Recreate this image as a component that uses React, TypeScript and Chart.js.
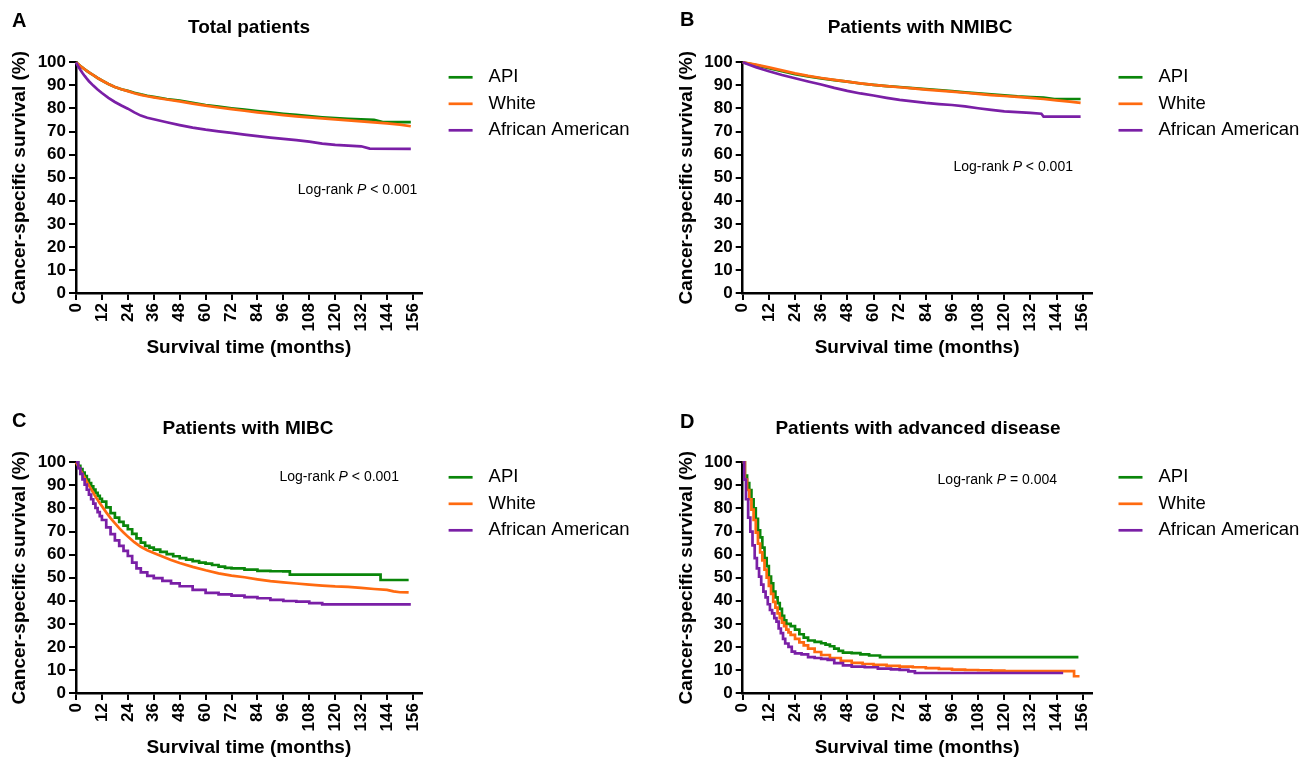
import React, { useEffect, useRef } from 'react';
import { Chart, registerables } from 'chart.js';

Chart.register(...registerables);

// ---------- shared axis / legend data ----------
const xTicks = [0, 12, 24, 36, 48, 60, 72, 84, 96, 108, 120, 132, 144, 156];
const yTicks = [0, 10, 20, 30, 40, 50, 60, 70, 80, 90, 100];
const xMax = 160;
const groupNames = ['API', 'White', 'African American'];
const groupColors = ['#0a860a', '#ff6a10', '#7a1fa6'];

const panelLetters = ['A', 'B', 'C', 'D'];
const panelTitles = ['Total patients', 'Patients with NMIBC', 'Patients with MIBC', 'Patients with advanced disease'];
const pSigns = ['<', '<', '<', '='];
const pValues = ['0.001', '0.001', '0.001', '0.004'];
const pAnchorMonths = [158, 151.5, 149.5, 144.2];
const pAnchorSurvival = [44.6, 54.7, 93.4, 92.3];

// ---------- Panel A: total patients ----------
const totalApiMonths = [0, 1, 2, 3, 4, 5, 6, 8, 10, 12, 15, 18, 21, 24, 27, 30, 33, 36, 42, 48, 54, 60, 66, 72, 78, 84, 90, 96, 102, 108, 114, 120, 126, 132, 138, 142, 155];
const totalApiSurvival = [100, 99.2, 98.4, 97.7, 97, 96.3, 95.6, 94.4, 93.2, 92.1, 90.6, 89.3, 88.3, 87.6, 86.8, 86.1, 85.5, 85, 84.1, 83.4, 82.4, 81.5, 80.8, 80.1, 79.5, 78.9, 78.3, 77.7, 77.2, 76.7, 76.2, 75.8, 75.5, 75.3, 75.1, 74.1, 74.1];
const totalWhiteMonths = [0, 1, 2, 3, 4, 5, 6, 8, 10, 12, 15, 18, 21, 24, 27, 30, 33, 36, 42, 48, 54, 60, 66, 72, 78, 84, 90, 96, 102, 108, 114, 120, 126, 132, 138, 144, 150, 155];
const totalWhiteSurvival = [100, 99.2, 98.4, 97.7, 97, 96.3, 95.6, 94.4, 93.2, 92.1, 90.6, 89.3, 88.3, 87.5, 86.6, 85.9, 85.3, 84.8, 83.9, 83.1, 82.1, 81.2, 80.4, 79.7, 79, 78.3, 77.7, 77.1, 76.6, 76.1, 75.7, 75.3, 74.8, 74.4, 74, 73.5, 73, 72.3];
const totalAaMonths = [0, 1, 2, 3, 4, 5, 6, 8, 10, 12, 15, 18, 21, 24, 27, 30, 33, 36, 42, 48, 54, 60, 66, 72, 78, 84, 90, 96, 102, 108, 114, 120, 126, 132, 136, 155];
const totalAaSurvival = [100, 98.3, 96.8, 95.4, 94.1, 92.9, 91.8, 89.9, 88.2, 86.7, 84.6, 82.8, 81.3, 79.9, 78.3, 76.9, 76, 75.3, 74, 72.8, 71.7, 70.8, 70.1, 69.4, 68.7, 68, 67.4, 66.8, 66.3, 65.6, 64.8, 64.2, 63.9, 63.6, 62.6, 62.5];

// ---------- Panel B: NMIBC ----------
const nmibcApiMonths = [0, 6, 12, 18, 24, 30, 36, 42, 48, 54, 60, 66, 72, 78, 84, 90, 96, 102, 108, 114, 120, 126, 132, 138, 143, 155];
const nmibcApiSurvival = [100, 98.8, 97.5, 96.1, 94.9, 93.9, 93, 92.3, 91.6, 90.8, 90.2, 89.7, 89.3, 88.8, 88.4, 88, 87.5, 87, 86.5, 86.1, 85.7, 85.2, 84.9, 84.7, 84.1, 84.1];
const nmibcWhiteMonths = [0, 6, 12, 18, 24, 30, 36, 42, 48, 54, 60, 66, 72, 78, 84, 90, 96, 102, 108, 114, 120, 126, 132, 138, 144, 150, 155];
const nmibcWhiteSurvival = [100, 99, 97.8, 96.5, 95.2, 94.1, 93.2, 92.4, 91.6, 90.9, 90.2, 89.7, 89.2, 88.7, 88.2, 87.7, 87.3, 86.8, 86.3, 85.8, 85.4, 85, 84.6, 84.1, 83.5, 83, 82.4];
const nmibcAaMonths = [0, 3, 6, 9, 12, 18, 24, 30, 36, 42, 48, 54, 60, 66, 72, 78, 84, 90, 96, 102, 108, 114, 120, 126, 132, 137, 138, 155];
const nmibcAaSurvival = [100, 98.9, 97.9, 97, 96.1, 94.5, 93.1, 91.7, 90.4, 88.9, 87.6, 86.5, 85.6, 84.6, 83.7, 83.1, 82.4, 81.9, 81.5, 80.9, 80.1, 79.4, 78.7, 78.4, 78.1, 77.7, 76.5, 76.5];

// ---------- Panel C: MIBC ----------
const mibcApiMonths = [0, 1, 2, 3, 4, 5, 6, 7, 8, 9, 10, 11, 12, 14, 16, 18, 20, 22, 24, 26, 28, 30, 32, 34, 36, 39, 42, 45, 48, 51, 54, 57, 60, 63, 66, 69, 72, 78, 84, 90, 96, 99, 141, 154];
const mibcApiSurvival = [100, 98.5, 97, 95.5, 94, 92.5, 91, 89.6, 88.2, 86.8, 85.5, 84.2, 83, 80.5, 78, 76, 74.2, 72.6, 71, 69, 67, 65.2, 63.8, 63, 62.2, 61.2, 60.2, 59.3, 58.5, 57.8, 57.2, 56.5, 56.1, 55.5, 54.8, 54.3, 54, 53.5, 53, 52.8, 52.7, 51.3, 49, 49];
const mibcWhiteMonths = [0, 1, 2, 3, 4, 5, 6, 7, 8, 9, 10, 11, 12, 14, 16, 18, 20, 22, 24, 27, 30, 33, 36, 40, 44, 48, 54, 60, 66, 72, 78, 84, 90, 96, 102, 108, 114, 120, 126, 132, 138, 144, 147, 150, 154];
const mibcWhiteSurvival = [100, 98.4, 96.7, 95, 93.3, 91.6, 90, 88.4, 86.8, 85.2, 83.8, 82.3, 81, 78.3, 75.8, 73.6, 71.5, 69.6, 67.8, 65.4, 63.4, 61.9, 60.7, 59.2, 57.7, 56.4, 54.7, 53.2, 51.9, 50.9, 50.2, 49.3, 48.5, 48, 47.5, 47, 46.6, 46.2, 46, 45.6, 45.1, 44.7, 44.1, 43.7, 43.6];
const mibcAaMonths = [0, 1, 2, 3, 4, 5, 6, 7, 8, 9, 10, 11, 12, 14, 16, 18, 20, 22, 24, 26, 28, 30, 33, 36, 40, 44, 48, 54, 60, 66, 72, 78, 84, 90, 96, 102, 108, 114, 155];
const mibcAaSurvival = [100, 97.5, 95, 92.6, 90.3, 88.1, 86, 84, 82.1, 80.2, 78.4, 76.7, 75, 71.8, 68.9, 66.2, 63.8, 61.6, 59.4, 56.5, 54, 52.3, 50.8, 49.8, 48.6, 47.5, 46.3, 44.7, 43.4, 42.8, 42.2, 41.6, 41.1, 40.4, 39.9, 39.6, 39, 38.4, 38.4];

// ---------- Panel D: advanced disease ----------
const advApiMonths = [0, 1, 2, 3, 4, 5, 6, 7, 8, 9, 10, 11, 12, 13, 14, 15, 16, 17, 18, 19, 20, 22, 24, 26, 28, 30, 33, 36, 38, 40, 42, 44, 46, 50, 54, 58, 63, 154];
const advApiSurvival = [100, 94.2, 91, 88, 84, 80, 75.5, 70.5, 67.5, 63, 58.5, 55, 50.5, 47.5, 44, 41.5, 39, 36.5, 33.5, 31.5, 30, 29, 27.5, 25.5, 24, 22.8, 22.2, 21.6, 21, 20.3, 19.3, 18.3, 17.5, 17.3, 16.8, 16.3, 15.6, 15.6];
const advWhiteMonths = [0, 1, 2, 3, 4, 5, 6, 7, 8, 9, 10, 11, 12, 13, 14, 15, 16, 17, 18, 19, 20, 21, 22, 24, 26, 28, 30, 33, 36, 40, 45, 50, 55, 60, 66, 72, 78, 84, 90, 96, 102, 108, 114, 120, 152, 154.5];
const advWhiteSurvival = [100, 92.5, 88, 84, 79.5, 75, 69.5, 64.8, 61, 57.5, 53.5, 50, 46.5, 43, 39.5, 37, 34.5, 32.5, 30.5, 29, 27.5, 26.3, 25.2, 23.5, 22, 20.7, 19.3, 17.8, 16.5, 15.2, 14, 13.1, 12.6, 12.2, 11.8, 11.5, 11.2, 10.8, 10.5, 10.2, 10, 9.9, 9.7, 9.5, 7.3, 7.3];
const advAaMonths = [0, 0.7, 1.5, 2.5, 3.5, 4.5, 5.5, 6.5, 7.5, 8.5, 9.5, 10.5, 11.5, 12.5, 13.5, 14.5, 15.5, 16.5, 17.5, 18.5, 19.5, 21, 22.5, 24, 27, 30, 33, 36, 39, 42, 46, 50, 56, 62, 68, 72, 76, 79, 147];
const advAaSurvival = [100, 92.5, 84, 76, 70, 64, 58.5, 54, 50.5, 47, 44, 41.5, 38.5, 36, 34.5, 32.5, 31, 28, 26, 23.5, 21.5, 20, 18, 17.2, 16.8, 15.6, 15.2, 14.8, 14.4, 13, 12, 11.5, 11.2, 10.6, 10.3, 10.1, 9.4, 8.7, 8.7];

const panelSeries: [number[], number[]][][] = [
  [[totalApiMonths, totalApiSurvival], [totalWhiteMonths, totalWhiteSurvival], [totalAaMonths, totalAaSurvival]],
  [[nmibcApiMonths, nmibcApiSurvival], [nmibcWhiteMonths, nmibcWhiteSurvival], [nmibcAaMonths, nmibcAaSurvival]],
  [[mibcApiMonths, mibcApiSurvival], [mibcWhiteMonths, mibcWhiteSurvival], [mibcAaMonths, mibcAaSurvival]],
  [[advApiMonths, advApiSurvival], [advWhiteMonths, advWhiteSurvival], [advAaMonths, advAaSurvival]],
];
const panelStepped = [
  [false, false, false],
  [false, false, false],
  [true, false, true],
  [true, true, true],
];

// ---------- layout (pixels) ----------
const FONT = "'Liberation Sans', Arial, Helvetica, sans-serif";
const panelBoxes = [
  { left: 0, top: 0, width: 653, height: 357, plotLeft: 76, plotRight: 421.6, letterX: 12, letterY: 21, titleX: 249, titleY: 27.5 },
  { left: 653, top: 0, width: 654, height: 357, plotLeft: 89.7, plotRight: 438.5, letterX: 27, letterY: 20.5, titleX: 267, titleY: 27.5 },
  { left: 0, top: 400, width: 653, height: 357, plotLeft: 76, plotRight: 421.6, letterX: 12, letterY: 21.5, titleX: 248, titleY: 28.3 },
  { left: 653, top: 400, width: 654, height: 357, plotLeft: 89.7, plotRight: 438.5, letterX: 27, letterY: 22.5, titleX: 265, titleY: 29 },
];
const plotTop = 62.3;
const plotBottom = 293.1;
const yAxisWidth = 65.5;
const legendRowOffsets = [15, 41.5, 68];

const panelDecor = {
  id: 'panelDecor',
  afterDraw(chart: any, _args: any, opts: any) {
    const { ctx, chartArea } = chart;
    const i = opts.index;
    const box = panelBoxes[i];
    ctx.save();
    ctx.fillStyle = '#000';
    ctx.textBaseline = 'middle';
    ctx.font = `bold 20px ${FONT}`;
    ctx.textAlign = 'left';
    ctx.fillText(panelLetters[i], box.letterX, box.letterY);
    ctx.font = `bold 19px ${FONT}`;
    ctx.textAlign = 'center';
    ctx.fillText(panelTitles[i], box.titleX, box.titleY);
    chart.data.datasets.forEach((ds: any, k: number) => {
      const y = chartArea.top + legendRowOffsets[k];
      ctx.strokeStyle = ds.borderColor;
      ctx.lineWidth = 2.7;
      ctx.beginPath();
      ctx.moveTo(chartArea.right + 27, y);
      ctx.lineTo(chartArea.right + 51, y);
      ctx.stroke();
      ctx.font = `18.5px ${FONT}`;
      ctx.textAlign = 'left';
      ctx.fillStyle = '#000';
      ctx.fillText(ds.label, chartArea.right + 67, y);
    });
    const ax = chart.scales.x.getPixelForValue(pAnchorMonths[i]);
    const ay = chart.scales.y.getPixelForValue(pAnchorSurvival[i]);
    const parts: [string, boolean][] = [['Log-rank ', false], ['P', true], [` ${pSigns[i]} ${pValues[i]}`, false]];
    const fontFor = (it: boolean) => `${it ? 'italic ' : ''}14px ${FONT}`;
    let total = 0;
    parts.forEach(([t, it]) => { ctx.font = fontFor(it); total += ctx.measureText(t).width; });
    let x = ax - total;
    ctx.textAlign = 'left';
    parts.forEach(([t, it]) => {
      ctx.font = fontFor(it);
      ctx.fillText(t, x, ay);
      x += ctx.measureText(t).width;
    });
    ctx.restore();
  },
};

function Panel({ index }: { index: number }) {
  const ref = useRef<HTMLCanvasElement>(null);
  const box = panelBoxes[index];
  useEffect(() => {
    const series = panelSeries[index];
    const chart = new Chart(ref.current as HTMLCanvasElement, {
      type: 'line',
      data: {
        datasets: series.map((pair, k) => ({
          label: groupNames[k],
          data: pair[0].map((m, j) => ({ x: m, y: pair[1][j] })),
          borderColor: groupColors[k],
          backgroundColor: groupColors[k],
          borderWidth: 2.7,
          pointRadius: 0,
          pointHoverRadius: 0,
          stepped: panelStepped[index][k],
          fill: false,
          clip: false as any,
          order: 3 - k,
        })),
      },
      options: {
        animation: false,
        responsive: false,
        devicePixelRatio: 1,
        events: [],
        layout: {
          padding: {
            left: box.plotLeft - yAxisWidth,
            right: box.width - box.plotRight,
            top: plotTop,
            bottom: 0,
          },
        },
        plugins: {
          legend: { display: false },
          tooltip: { enabled: false },
          title: { display: false },
          panelDecor: { index },
        } as any,
        scales: {
          x: {
            type: 'linear',
            min: 0,
            max: xMax,
            afterBuildTicks: (scale: any) => {
              scale.ticks = xTicks.map((v) => ({ value: v }));
            },
            afterFit: (scale: any) => {
              scale.height = box.height - plotBottom;
            },
            ticks: {
              autoSkip: false,
              minRotation: 90,
              maxRotation: 90,
              padding: 3,
              color: '#000',
              font: { family: FONT, size: 17, weight: 'bold' },
            },
            grid: {
              display: true,
              drawOnChartArea: false,
              drawTicks: true,
              tickLength: 7,
              tickWidth: 2,
              tickColor: '#000',
              color: '#000',
              lineWidth: 2,
            },
            border: { display: true, color: '#000', width: 2.5 },
            title: {
              display: true,
              text: 'Survival time (months)',
              color: '#000',
              padding: 0,
              font: { family: FONT, size: 19, weight: 'bold', lineHeight: 1 },
            },
          },
          y: {
            type: 'linear',
            min: 0,
            max: 100,
            afterBuildTicks: (scale: any) => {
              scale.ticks = yTicks.map((v) => ({ value: v }));
            },
            afterFit: (scale: any) => {
              scale.width = yAxisWidth;
            },
            ticks: {
              autoSkip: false,
              padding: 3,
              color: '#000',
              font: { family: FONT, size: 17, weight: 'bold' },
            },
            grid: {
              display: true,
              drawOnChartArea: false,
              drawTicks: true,
              tickLength: 7,
              tickWidth: 2,
              tickColor: '#000',
              color: '#000',
              lineWidth: 2,
            },
            border: { display: true, color: '#000', width: 2.5 },
            title: {
              display: true,
              text: 'Cancer-specific survival (%)',
              color: '#000',
              padding: 0,
              font: { family: FONT, size: 19, weight: 'bold', lineHeight: 1 },
            },
          },
        },
      } as any,
      plugins: [panelDecor],
    });
    return () => chart.destroy();
  }, [index]);
  return (
    <canvas
      ref={ref}
      width={box.width}
      height={box.height}
      style={{ position: 'absolute', left: box.left, top: box.top, width: box.width, height: box.height }}
    />
  );
}

export default function App() {
  return (
    <div style={{ position: 'absolute', left: 0, top: 0, width: 1307, height: 757, background: '#fff', overflow: 'hidden' }}>
      {panelBoxes.map((_, i) => (
        <Panel key={i} index={i} />
      ))}
    </div>
  );
}
